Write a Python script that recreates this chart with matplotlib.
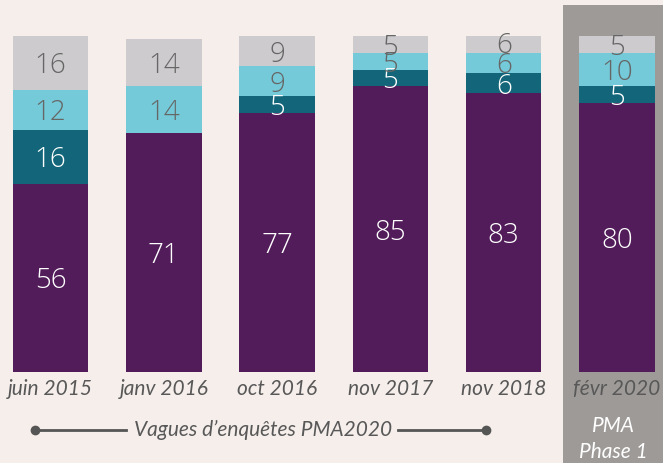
import matplotlib
matplotlib.use("Agg")
import matplotlib.pyplot as plt
from matplotlib.patches import Rectangle
from matplotlib.lines import Line2D

# Survey waves and stacked shares (%)
waves = ["juin 2015", "janv 2016", "oct 2016", "nov 2017", "nov 2018", "févr 2020"]
purple_vals = [56, 71, 77, 85, 83, 80]
teal_vals = [16, 0, 5, 5, 6, 5]
cyan_vals = [12, 14, 9, 5, 6, 10]
grey_vals = [16, 14, 9, 5, 6, 5]

series = [
    (purple_vals, "#521c5a", "white"),
    (teal_vals, "#13667a", "white"),
    (cyan_vals, "#74cad8", "#666666"),
    (grey_vals, "#cdcbcd", "#666666"),
]

W, H = 663, 463
BG = "#f5eeeb"
fig = plt.figure(figsize=(W / 100, H / 100), dpi=100, facecolor=BG)

# Shaded band behind the latest wave
fig.add_artist(Rectangle((563 / W, 0), 100 / W, (H - 5) / H,
                         transform=fig.transFigure, facecolor="#9e9a98",
                         edgecolor="none", zorder=-1))

top_px, bot_px = 36, 372
ax = fig.add_axes([0, (H - bot_px) / H, 1, (bot_px - top_px) / H])
ax.set_facecolor("none")
step = 113.3
first = 50.5
ax.set_xlim((0 - first) / step, (W - first) / step)
ax.set_ylim(0, 100)
ax.axis("off")

x = list(range(len(waves)))
bottoms = [0] * len(waves)
for vals, color, tcolor in series:
    ax.bar(x, vals, width=0.667, bottom=bottoms, color=color,
           edgecolor="none", zorder=2)
    for i, v in enumerate(vals):
        if v > 0:
            ax.text(i, bottoms[i] + v / 2, str(v), ha="center",
                    va="center_baseline", color=tcolor, fontsize=20,
                    family="Open Sans", fontweight="light", zorder=3)
    bottoms = [b + v for b, v in zip(bottoms, vals)]

for i, lab in enumerate(waves):
    ax.annotate(lab, (i, 0), xytext=(0, -12.5), textcoords="offset points",
                ha="center", va="center", fontsize=15, family="Lato",
                style="italic", color="#585858")

# Bracket label for the PMA2020 waves
yb = 1 - 430 / H
fig.text(263 / W, yb, "Vagues d\u2019enquêtes PMA2020", ha="center",
         va="center", fontsize=15, family="Lato", style="italic",
         color="#585858")
lc = "#555555"
fig.add_artist(Line2D([35 / W, 126 / W], [yb] * 2, color=lc, lw=2,
                      transform=fig.transFigure))
fig.add_artist(Line2D([398 / W, 486 / W], [yb] * 2, color=lc, lw=2,
                      transform=fig.transFigure))
fig.add_artist(Line2D([35 / W, 486 / W], [yb] * 2, color=lc,
                      lw=0, marker="o", markersize=6,
                      transform=fig.transFigure))

fig.text(613 / W, 1 - 426 / H, "PMA", ha="center", va="center", fontsize=15,
         family="Lato", style="italic", color="white")
fig.text(613 / W, 1 - 452 / H, "Phase 1", ha="center", va="center",
         fontsize=15, family="Lato", style="italic", color="white")

fig.savefig("out.png", dpi=100, facecolor=BG)
